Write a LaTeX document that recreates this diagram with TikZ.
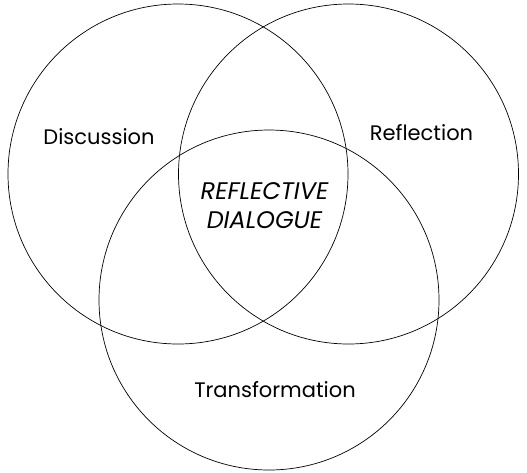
\documentclass[tikz,border=0pt]{standalone}
\usepackage{fontspec}
\setmainfont{Poppins}
\begin{document}
\begin{tikzpicture}[x=1pt,y=-1pt,
  ring/.style={circle,draw=black,line width=0.7pt,minimum size=340pt,inner sep=0pt},
  lbl/.style={font=\fontsize{21}{24}\selectfont,inner sep=0pt},
  core/.style={font=\fontsize{24}{29}\selectfont\itshape,align=center,inner sep=0pt}]
\useasboundingbox (0,0) rectangle (527,472);
\node[ring] (disc) at (178,174) {};
\node[ring] (refl) at (348.5,174) {};
\node[ring] (trans) at (269,300) {};
\node[lbl] (tdisc) at (99,137) {Discussion};
\node[lbl] (trefl) at (421.5,133) {Reflection};
\node[lbl] (ttrans) at (275,390) {Transformation};
\node[core] (tcore) at (264.5,206) {REFLECTIVE\\DIALOGUE};
\end{tikzpicture}
\end{document}
